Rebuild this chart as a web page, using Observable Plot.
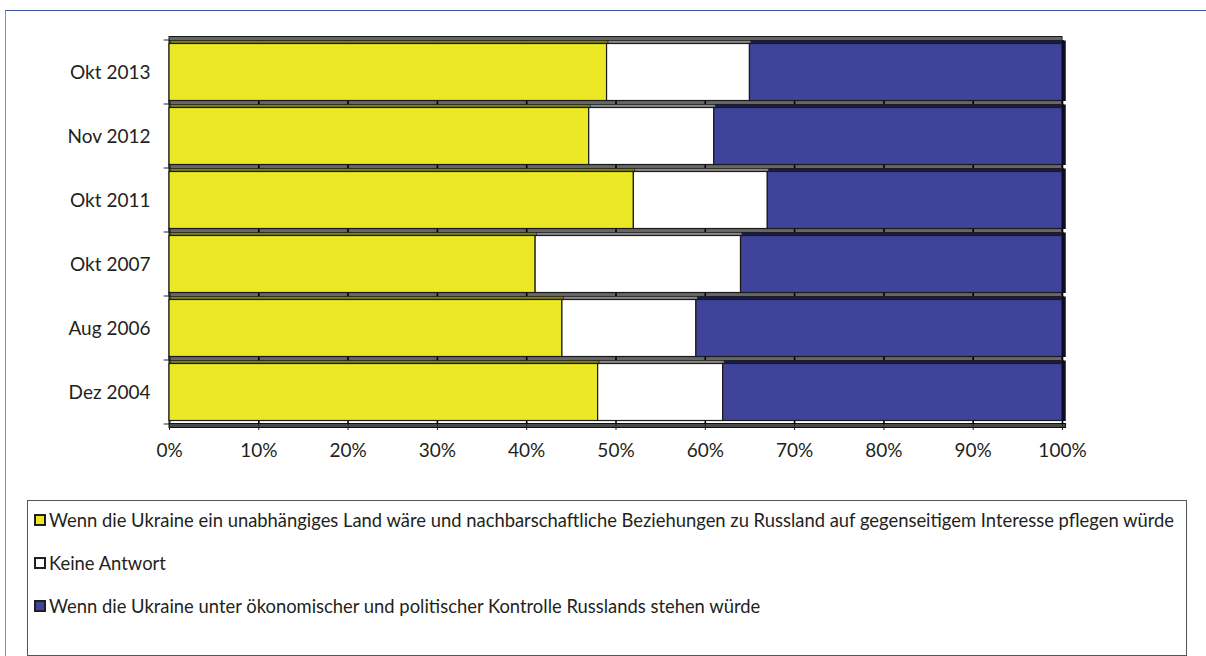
<!DOCTYPE html>
<html>
<head>
<meta charset="utf-8">
<script src="https://cdn.jsdelivr.net/npm/d3@7"></script>
<script src="https://cdn.jsdelivr.net/npm/@observablehq/plot@0.6"></script>
<style>
html,body{margin:0;padding:0;background:#fff;}
#wrap{position:relative;width:1206px;height:656px;overflow:hidden;font-family:Lato,"Open Sans",sans-serif;color:#231f20;}
#frame{position:absolute;left:5px;top:10px;width:1210px;height:660px;border-top:1.5px solid #3d55a5;border-left:1px solid #7d8ccc;}
#chart{position:absolute;left:0;top:0;}
#legend{position:absolute;left:27px;top:500px;width:1160px;height:156px;box-sizing:border-box;border:1px solid #555;background:#fff;}
.item{position:absolute;left:6px;height:20px;display:flex;align-items:center;font-size:18.4px;white-space:nowrap;}
.sw{width:8px;height:8px;border:2px solid #231f20;margin-right:3px;flex:none;}
</style>
</head>
<body>
<div id="wrap">
  <div id="frame"></div>
  <div id="chart"></div>
  <div id="legend"></div>
</div>
<script>
// ---- data ----
const categories = ["Okt 2013", "Nov 2012", "Okt 2011", "Okt 2007", "Aug 2006", "Dez 2004"];
const unabhaengig = [49, 47, 52, 41, 44, 48];
const keineAntwort = [16, 14, 15, 23, 15, 14];
const kontrolle = [35, 39, 33, 36, 41, 38];
const seriesNames = [
  "Wenn die Ukraine ein unabhängiges Land wäre und nachbarschaftliche Beziehungen zu Russland auf gegenseitigem Interesse pflegen würde",
  "Keine Antwort",
  "Wenn die Ukraine unter ökonomischer und politischer Kontrolle Russlands stehen würde"
];
const xTicks = [0, 10, 20, 30, 40, 50, 60, 70, 80, 90, 100];

// ---- styles ----
const frontColors = ["#ece826", "#ffffff", "#3f4399"];
const topColors = ["#7d7c16", "#8a8a8a", "#1a1a50"];

const seriesValues = [unabhaengig, keineAntwort, kontrolle];
const rows = categories.flatMap((c, i) => {
  let acc = 0;
  return seriesValues.map((vals, j) => {
    const r = {cat: c, j, x1: acc, x2: acc + vals[i]};
    acc += vals[i];
    return r;
  });
});

const step = 64;
const chart = Plot.plot({
  width: 1206,
  height: 470,
  marginLeft: 169,
  marginRight: 144,
  marginTop: 40,
  marginBottom: 46,
  style: {fontFamily: "Lato, 'Open Sans', sans-serif", color: "#231f20", background: "transparent"},
  x: {domain: [0, 100], axis: null},
  y: {domain: categories, padding: 0, axis: null},
  marks: [
    // back strips (depth) above each band
    Plot.barX(categories, {y: d => d, x1: 0, x2: 100, insetTop: -3.5, insetBottom: step - 0.5, fill: "#666666", stroke: "#1a1a1a", strokeWidth: 1}),
    // floor strip
    Plot.barX([categories[categories.length - 1]], {y: d => d, x1: 0, x2: 100.4, insetTop: step - 0.5, insetBottom: -3.5, fill: "#4a4a4a", stroke: "#111", strokeWidth: 1}),
    // gridlines (visible only in strips)
    Plot.ruleX(xTicks, {stroke: "#000", strokeWidth: 1.6}),
    // y axis line
    Plot.ruleX([0], {stroke: "#222", strokeWidth: 1.5}),
    // top faces
    Plot.barX(rows, {y: "cat", x1: "x1", x2: "x2", insetTop: 0.5, insetBottom: step - 3.5, dx: 1.5, fill: d => topColors[d.j], stroke: "#222", strokeWidth: 0.6}),
    // front faces
    Plot.barX(rows, {y: "cat", x1: "x1", x2: "x2", insetTop: 3.5, insetBottom: 3.5, fill: d => frontColors[d.j], stroke: "#1a1a1a", strokeWidth: 1.2}),
    // right side faces
    Plot.barX(categories, {y: d => d, x1: 100, x2: 100.42, insetTop: 0.5, insetBottom: 3, fill: "#0c0c22"}),
    // y tick marks at band boundaries
    Plot.barX(categories, {y: d => d, x1: -0.6, x2: 0, insetTop: -0.5, insetBottom: step - 0.5, fill: "#222"}),
    Plot.barX([categories[categories.length - 1]], {y: d => d, x1: -0.6, x2: 0, insetTop: step - 0.5, insetBottom: -0.5, fill: "#222"}),
    // axes
    Plot.axisX(xTicks, {tickFormat: d => d + "%", tickSize: 6, tickPadding: 13, fontSize: 19, stroke: "#222", label: null}),
    Plot.axisY({tickSize: 0, tickPadding: 19, fontSize: 19, label: null})
  ]
});
document.getElementById("chart").appendChild(chart);

// ---- legend ----
const legend = document.getElementById("legend");
seriesNames.forEach((name, j) => {
  const item = document.createElement("div");
  item.className = "item";
  item.style.top = (9 + j * 43) + "px";
  const sw = document.createElement("span");
  sw.className = "sw";
  sw.style.background = frontColors[j];
  const t = document.createElement("span");
  t.textContent = name;
  item.appendChild(sw);
  item.appendChild(t);
  legend.appendChild(item);
});
</script>
</body>
</html>
